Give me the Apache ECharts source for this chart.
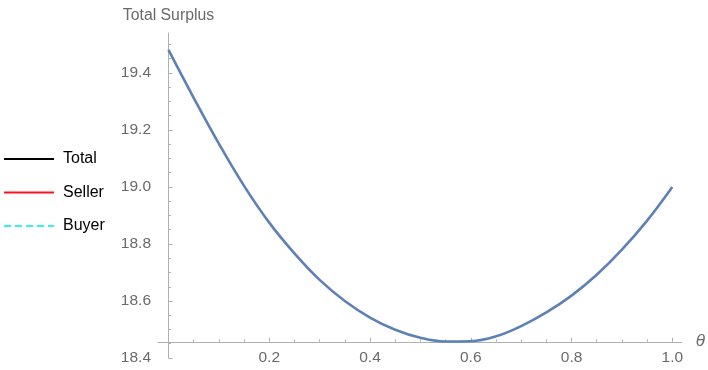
<!DOCTYPE html>
<html>
<head>
<meta charset="utf-8">
<script src="https://cdn.jsdelivr.net/npm/echarts@6/dist/echarts.min.js"></script>
<style>
html,body{margin:0;padding:0;background:#fff;}
#chart{width:708px;height:370px;}
</style>
</head>
<body>
<div id="chart"></div>
<script>
// ---- data ----
const theta = [0, 0.05, 0.1, 0.15, 0.2, 0.25, 0.3, 0.35, 0.4, 0.45, 0.5, 0.55, 0.6, 0.65, 0.7, 0.75, 0.8, 0.85, 0.9, 0.95, 1.0];
const totalSurplus = [19.481, 19.313, 19.152, 19.004, 18.875, 18.767, 18.674, 18.6, 18.542, 18.499, 18.471, 18.458, 18.459, 18.476, 18.512, 18.56, 18.619, 18.692, 18.78, 18.882, 19.0];
const legendNames = ['Total', 'Seller', 'Buyer'];
const xMajorTicks = [0.2, 0.4, 0.6, 0.8, 1.0];
const xMinorTicks = [0.05, 0.1, 0.15, 0.25, 0.3, 0.35, 0.45, 0.5, 0.55, 0.65, 0.7, 0.75, 0.85, 0.9, 0.95];
const yMajorTicks = [18.4, 18.6, 18.8, 19.0, 19.2, 19.4];
const yMinorTicks = [18.45, 18.5, 18.55, 18.65, 18.7, 18.75, 18.85, 18.9, 18.95, 19.05, 19.1, 19.15, 19.25, 19.3, 19.35, 19.45, 19.5];
const xAxisTitle = 'θ';
const yAxisTitle = 'Total Surplus';

// ---- layout ----
const gridLeft = 158, gridRight = 683, gridTop = 33, gridBottom = 358;
const xZeroPx = 168.5, xScale = 505;       // px per unit
const yMin = 18.4, yScale = 285;           // px per unit
const xMin = (gridLeft - xZeroPx) / xScale;
const xMax = (gridRight - xZeroPx) / xScale;
const yMax = yMin + (gridBottom - gridTop) / yScale;
const xAxisCross = 18.457;                 // x axis crosses y here
const xAxisOffset = -(xAxisCross - yMin) * yScale;

const axisColor = '#b0b0b0';
const labelColor = '#6a6a6a';
const fontFamily = '"Liberation Sans", Arial, Helvetica, sans-serif';

const chart = echarts.init(document.getElementById('chart'), null, {renderer: 'canvas'});

const option = {
  animation: false,
  backgroundColor: '#fff',
  grid: {left: gridLeft, top: gridTop, width: gridRight - gridLeft, height: gridBottom - gridTop, containLabel: false},
  legend: {
    orient: 'vertical',
    left: 3,
    top: 151,
    padding: 0,
    itemWidth: 50,
    itemHeight: 14,
    itemGap: 17.5,
    data: legendNames,
    itemStyle: {opacity: 0},
    textStyle: {color: '#000', fontSize: 16, fontFamily: fontFamily, padding: [0, 0, 0, 4]},
    selectedMode: false
  },
  xAxis: [
    {
      type: 'value', position: 'bottom', min: xMin, max: xMax, offset: xAxisOffset,
      axisLine: {show: true, onZero: false, lineStyle: {color: axisColor, width: 1}},
      axisTick: {show: true, inside: true, length: 4, customValues: xMajorTicks, lineStyle: {color: axisColor}},
      axisLabel: {show: true, customValues: xMajorTicks, margin: 8, color: labelColor, fontSize: 15.5, fontFamily: fontFamily,
        formatter: v => v.toFixed(1)},
      splitLine: {show: false},
      name: xAxisTitle, nameLocation: 'end', nameGap: 14,
      nameTextStyle: {color: labelColor, fontSize: 17, fontStyle: 'italic', fontFamily: fontFamily, verticalAlign: 'middle', align: 'left'}
    },
    {
      type: 'value', position: 'bottom', min: xMin, max: xMax, offset: xAxisOffset,
      axisLine: {show: false, onZero: false},
      axisTick: {show: true, inside: true, length: 2.5, customValues: xMinorTicks, lineStyle: {color: axisColor}},
      axisLabel: {show: false},
      splitLine: {show: false}
    }
  ],
  yAxis: [
    {
      type: 'value', position: 'left', min: yMin, max: yMax,
      axisLine: {show: true, onZero: true, onZeroAxisIndex: 0, lineStyle: {color: axisColor, width: 1}},
      axisTick: {show: true, inside: true, length: 4, customValues: yMajorTicks, lineStyle: {color: axisColor}},
      axisLabel: {show: true, customValues: yMajorTicks, margin: 7, color: labelColor, fontSize: 15.5, fontFamily: fontFamily,
        formatter: v => v.toFixed(1)},
      splitLine: {show: false},
      name: yAxisTitle, nameLocation: 'end', nameGap: 17,
      nameTextStyle: {color: labelColor, fontSize: 15.8, fontFamily: fontFamily, verticalAlign: 'middle', align: 'center'}
    },
    {
      type: 'value', position: 'left', min: yMin, max: yMax,
      axisLine: {show: false, onZero: true, onZeroAxisIndex: 1},
      axisTick: {show: true, inside: true, length: 2.5, customValues: yMinorTicks, lineStyle: {color: axisColor}},
      axisLabel: {show: false},
      splitLine: {show: false}
    }
  ],
  series: [
    {
      name: 'curve', type: 'line', xAxisIndex: 0, yAxisIndex: 0,
      data: theta.map((t, i) => [t, totalSurplus[i]]),
      smooth: 0.4, showSymbol: false, symbol: 'none',
      lineStyle: {color: '#5E81B5', width: 2.6}, itemStyle: {color: '#5E81B5'},
      clip: false
    },
    {name: legendNames[0], type: 'line', data: [], symbol: 'none', color: '#000000', lineStyle: {color: '#000000', width: 2}},
    {name: legendNames[1], type: 'line', data: [], symbol: 'none', color: '#FF1020', lineStyle: {color: '#FF1020', width: 2}},
    {name: legendNames[2], type: 'line', data: [], symbol: 'none', color: '#33F0F5', lineStyle: {color: '#33F0F5', width: 2, type: [7, 4]}}
  ]
};
chart.setOption(option);
</script>
</body>
</html>
